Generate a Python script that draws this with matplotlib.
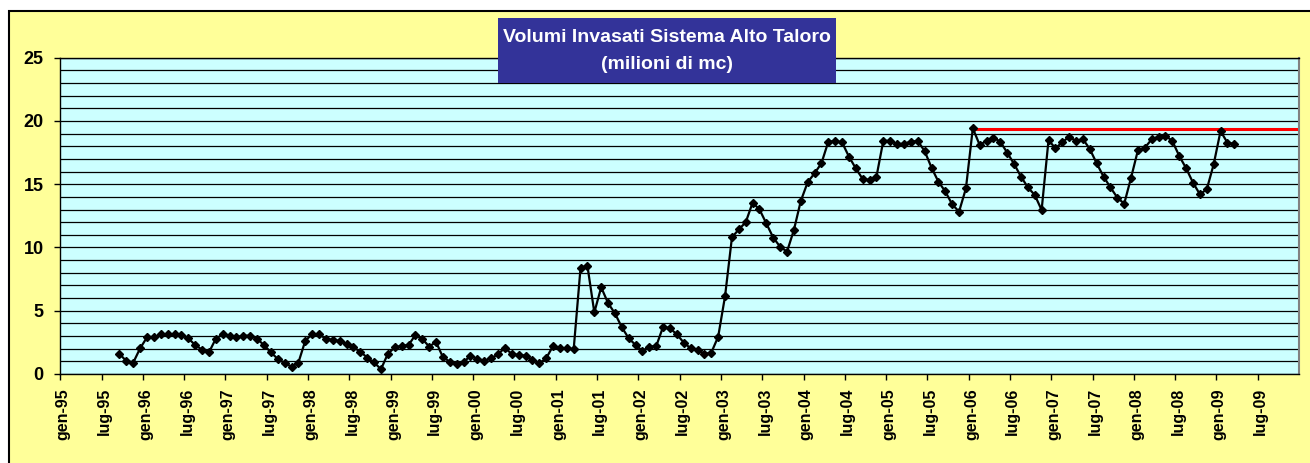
import matplotlib.pyplot as plt
from matplotlib.patches import Rectangle
from matplotlib.transforms import ScaledTranslation
import numpy as np

plt.rcParams['font.family'] = ['Liberation Sans', 'DejaVu Sans']
plt.rcParams['font.weight'] = 'bold'

# monthly volumes (milioni di mc), from set-95 to mar-09
first_month = 8  # months after gen-95
volumes = [
    1.58, 1.03, 0.90, 2.03, 2.90, 2.90, 3.13, 3.13, 3.13, 3.08, 2.82, 2.29,
    1.92, 1.71, 2.79, 3.13, 3.03, 2.90, 3.03, 3.03, 2.77, 2.29, 1.71, 1.19,
    0.87, 0.58, 0.90, 2.63, 3.15, 3.15, 2.77, 2.70, 2.60, 2.37, 2.10, 1.77,
    1.29, 0.91, 0.38, 1.60, 2.10, 2.22, 2.29, 3.08, 2.77, 2.17, 2.53, 1.33,
    0.97, 0.76, 0.92, 1.45, 1.19, 1.05, 1.24, 1.55, 2.08, 1.58, 1.50, 1.45,
    1.11, 0.84, 1.24, 2.21, 2.03, 2.03, 1.95, 8.40, 8.54, 4.87, 6.85, 5.60,
    4.79, 3.69, 2.82, 2.29, 1.82, 2.16, 2.21, 3.74, 3.61, 3.13, 2.48, 2.03,
    1.90, 1.58, 1.69, 2.95, 6.16, 10.80, 11.43, 11.99, 13.54, 13.01, 11.90, 10.78,
    10.06, 9.67, 11.38, 13.67, 15.15, 15.86, 16.65, 18.36, 18.41, 18.31, 17.18, 16.25,
    15.41, 15.33, 15.60, 18.45, 18.41, 18.18, 18.20, 18.36, 18.42, 17.62, 16.31, 15.20,
    14.43, 13.41, 12.83, 14.67, 19.42, 18.10, 18.44, 18.68, 18.36, 17.49, 16.60, 15.60,
    14.75, 14.15, 12.96, 18.49, 17.84, 18.31, 18.76, 18.41, 18.57, 17.78, 16.65, 15.60,
    14.75, 13.94, 13.46, 15.52, 17.70, 17.89, 18.55, 18.76, 18.84, 18.41, 17.23, 16.26,
    15.12, 14.20, 14.60, 16.57, 19.20, 18.28, 18.18,
]

# red reference level, gen-06 .. dic-09
ref_first_month = 132
ref_last_month = 179
ref_level = 19.33

tick_labels = []
for yy in range(95, 110):
    tick_labels.append('gen-%02d' % (yy % 100))
    tick_labels.append('lug-%02d' % (yy % 100))

title_text = 'Volumi Invasati Sistema Alto Taloro\n(milioni di mc)'

W, H = 1310, 463
fig = plt.figure(figsize=(W / 100, H / 100), dpi=100)
fig.patch.set_facecolor('white')

# yellow chart area with border (runs off right and bottom edges)
bg = Rectangle((9 / W, -0.1), 1.2, 1.1 - 11 / H, transform=fig.transFigure,
               facecolor='#FFFF99', edgecolor='black', lw=1.5, zorder=-1)
fig.add_artist(bg)

ax = fig.add_axes([60.3 / W, 89 / H, 1238.7 / W, 316.3 / H])
ax.set_facecolor('#CCFFFF')

x = np.arange(len(volumes)) + first_month + 0.6
ax.plot(x, volumes, color='black', lw=1.6, marker='D', ms=4,
        mfc='black', mec='black', zorder=4)

ref_x = np.arange(ref_first_month, ref_last_month + 1) + 0.6
ax.plot(ref_x, np.full(len(ref_x), ref_level), color='red', lw=2.2, zorder=3)

ax.set_xlim(0, 180)
ax.set_ylim(0, 25)
ax.set_xticks(np.arange(0, 180, 6))
ax.set_xticklabels(tick_labels, rotation=90, fontsize=11.5, fontweight='bold')
ax.set_yticks(np.arange(0, 26, 5))
ax.set_yticks(np.arange(0, 26, 1), minor=True)
ax.set_yticklabels([str(v) for v in range(0, 26, 5)], fontsize=13, fontweight='bold')
ax.grid(which='both', axis='y', color='black', lw=0.9)
ax.set_axisbelow(True)
ax.tick_params(axis='y', which='minor', length=0)
ax.tick_params(axis='y', which='major', length=4, width=1, pad=8)
ax.tick_params(axis='x', length=4, width=1, pad=6)

shift = ScaledTranslation(2 / 72, 0, fig.dpi_scale_trans)
for lbl in ax.get_xticklabels():
    lbl.set_transform(lbl.get_transform() + shift)

for side in ['left', 'bottom', 'top']:
    ax.spines[side].set_color('black')
    ax.spines[side].set_linewidth(1)
ax.spines['right'].set_color('#808080')
ax.spines['right'].set_linewidth(1.5)

# title box
box = Rectangle((498 / W, 1 - 83 / H), 338 / W, 65 / H, transform=fig.transFigure,
                facecolor='#333399', edgecolor='none', zorder=5)
fig.add_artist(box)
fig.text(667 / W, 1 - 51 / H, title_text, color='white', fontsize=14,
         fontweight='bold', ha='center', va='center', linespacing=1.7, zorder=6)

fig.savefig('out.png', dpi=100)
